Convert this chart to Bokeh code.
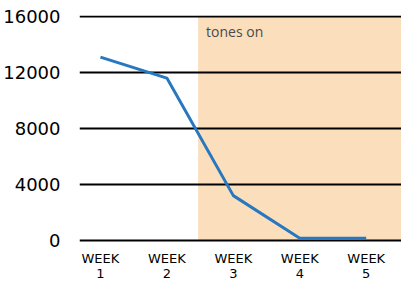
from bokeh.plotting import figure
from bokeh.models import FixedTicker, BoxAnnotation, Label, Range1d
from bokeh.embed import file_html
from bokeh.resources import INLINE

weeks = [1, 2, 3, 4, 5]
values = [13100, 11600, 3200, 150, 150]
week_labels = ["WEEK\n1", "WEEK\n2", "WEEK\n3", "WEEK\n4", "WEEK\n5"]
y_ticks = [0, 4000, 8000, 12000, 16000]
shade_start = 2.47
shade_label = "tones on"

p = figure(width=401, height=283, output_backend="svg", toolbar_location=None,
           x_range=Range1d(0.685, 5.531), y_range=Range1d(-150, 16071),
           min_border_top=15, min_border_left=70, min_border_right=0, min_border_bottom=0)
p.outline_line_color = None
p.background_fill_color = "white"
p.border_fill_color = "white"

p.add_layout(BoxAnnotation(left=shade_start, bottom=0, fill_color="#FBDFBD", fill_alpha=1,
                           line_color=None, level="image"))

p.xgrid.grid_line_color = None
p.ygrid.grid_line_color = "black"
p.ygrid.grid_line_width = 2
p.ygrid.ticker = FixedTicker(ticks=y_ticks)

p.line(weeks, values, line_width=3, line_color="#2878C0")

p.add_layout(Label(x=shade_start, y=16071, x_offset=8, y_offset=-6, text=shade_label,
                   text_baseline="top", text_font="Open Sans", text_font_size="14px",
                   text_color="#4a4a4a"))

ya = p.yaxis[0]
ya.ticker = FixedTicker(ticks=y_ticks)
ya.axis_line_color = None
ya.major_tick_line_color = None
ya.minor_tick_line_color = None
ya.major_label_standoff = 13
ya.major_label_text_font = "DejaVu Sans"
ya.major_label_text_font_size = "18px"
ya.major_label_text_color = "black"

xa = p.xaxis[0]
xa.ticker = FixedTicker(ticks=weeks)
xa.major_label_overrides = {w: l for w, l in zip(weeks, week_labels)}
xa.axis_line_color = None
xa.major_tick_line_color = None
xa.minor_tick_line_color = None
xa.major_label_standoff = 2
xa.major_label_text_font = "DejaVu Sans"
xa.major_label_text_font_size = "13px"
xa.major_label_text_color = "black"
xa.major_label_text_line_height = 1.0

open("out.html", "w").write(file_html(p, INLINE))
